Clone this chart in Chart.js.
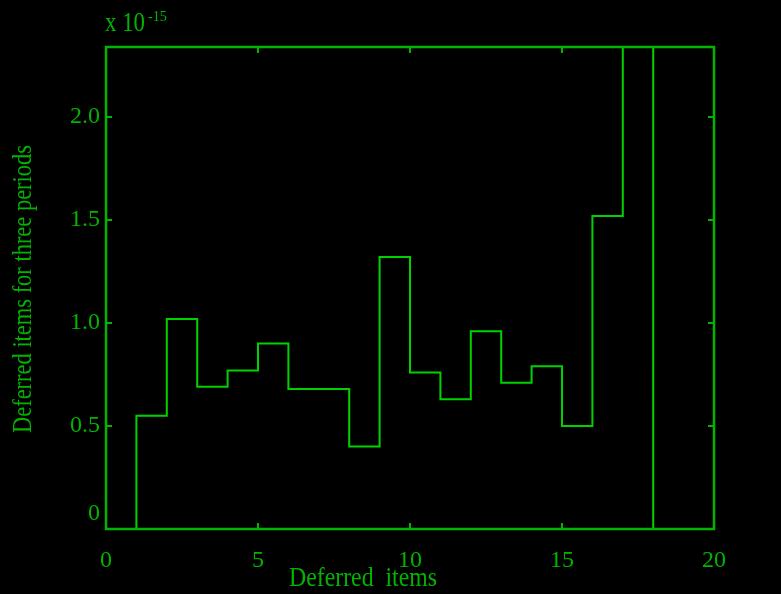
<!DOCTYPE html>
<html>
<head>
<meta charset="utf-8">
<script src="https://cdn.jsdelivr.net/npm/chart.js@4/dist/chart.umd.min.js"></script>
<style>
html,body{margin:0;padding:0;background:#000;}
canvas{display:block;}
</style>
</head>
<body>
<canvas id="c" width="781" height="594"></canvas>
<script>
// Stair edges (x) and the level held from each edge to the next
const stepX = [0, 1, 2, 3, 4, 5, 6, 7, 8, 9, 10, 11, 12, 13, 14, 15, 16, 17, 18];
const stepY = [0, 0.55, 1.02, 0.69, 0.77, 0.90, 0.68, 0.68, 0.40, 1.32, 0.76, 0.63, 0.96, 0.71, 0.79, 0.50, 1.52, 3.0, 0];
const xTicks = [0, 5, 10, 15, 20];
const yTicks = [0, 0.5, 1.0, 1.5, 2.0];
const xTitle = 'Deferred  items';
const yTitle = 'Deferred items for three periods';
const expBase = 'x 10';
const expPow = '-15';

const AXIS = '#00b400';
const LINE = '#00d200';
const FONT = '"Liberation Serif", "DejaVu Serif", serif';

const points = stepX.map((x, i) => ({x: x, y: stepY[i]}));

function fitText(ctx, text, cx, cy, size, width, rot, align) {
  ctx.save();
  ctx.font = size + 'px ' + FONT;
  const w = ctx.measureText(text).width;
  ctx.translate(cx, cy);
  if (rot) ctx.rotate(rot);
  ctx.scale(width / w, 1);
  ctx.textAlign = align || 'center';
  ctx.textBaseline = 'middle';
  ctx.fillText(text, 0, 0);
  ctx.restore();
}

const decor = {
  id: 'decor',
  afterDraw(chart) {
    const ctx = chart.ctx;
    const a = chart.chartArea;
    const xs = chart.scales.x, ys = chart.scales.y;
    ctx.save();
    ctx.strokeStyle = AXIS;
    ctx.lineWidth = 2.5;
    ctx.strokeRect(a.left, a.top, a.right - a.left, a.bottom - a.top);
    ctx.lineWidth = 2;
    const L = 6;
    xTicks.forEach(v => {
      const px = xs.getPixelForValue(v);
      ctx.beginPath();
      ctx.moveTo(px, a.bottom); ctx.lineTo(px, a.bottom - L);
      ctx.moveTo(px, a.top); ctx.lineTo(px, a.top + L);
      ctx.stroke();
    });
    yTicks.forEach(v => {
      const py = ys.getPixelForValue(v);
      ctx.beginPath();
      ctx.moveTo(a.left, py); ctx.lineTo(a.left + L, py);
      ctx.moveTo(a.right, py); ctx.lineTo(a.right - L, py);
      ctx.stroke();
    });
    ctx.fillStyle = AXIS;
    // zero label, drawn raised as in the reference
    ctx.font = '24px ' + FONT;
    ctx.textAlign = 'right';
    ctx.textBaseline = 'middle';
    ctx.fillText('0', a.left - 6, ys.getPixelForValue(0) - 15);
    // axis titles
    fitText(ctx, xTitle, 363, 579, 28, 148, 0);
    fitText(ctx, yTitle, 24, 289, 28, 288, -Math.PI / 2);
    // exponent
    fitText(ctx, expBase, a.left - 1, 24, 28, 40, 0, 'left');
    fitText(ctx, expPow, a.left + 42, 17, 15, 19, 0, 'left');
    ctx.restore();
  }
};

new Chart(document.getElementById('c'), {
  type: 'line',
  data: {
    datasets: [{
      data: points,
      stepped: 'before',
      borderColor: LINE,
      borderWidth: 2,
      pointRadius: 0,
      fill: false,
      clip: 0
    }]
  },
  options: {
    responsive: false,
    animation: false,
    events: [],
    layout: {padding: {left: 0, right: 67, top: 47, bottom: 0}},
    plugins: {legend: {display: false}, tooltip: {enabled: false}},
    scales: {
      x: {
        type: 'linear',
        min: 0, max: 20,
        afterBuildTicks(s) { s.ticks = xTicks.map(v => ({value: v})); },
        afterFit(s) { s.height = 594 - 529; },
        grid: {display: false, drawTicks: false},
        border: {display: false},
        ticks: {
          color: AXIS,
          font: {family: FONT, size: 24},
          padding: 17,
          maxRotation: 0,
          autoSkip: false,
          callback: v => String(v)
        }
      },
      y: {
        type: 'linear',
        min: 0, max: 2.34,
        afterBuildTicks(s) { s.ticks = yTicks.map(v => ({value: v})); },
        afterFit(s) { s.width = 106; },
        grid: {display: false, drawTicks: false},
        border: {display: false},
        ticks: {
          color: AXIS,
          font: {family: FONT, size: 24},
          padding: 6,
          autoSkip: false,
          callback: v => (v === 0 ? '' : v.toFixed(1))
        }
      }
    }
  },
  plugins: [decor]
});
</script>
</body>
</html>
